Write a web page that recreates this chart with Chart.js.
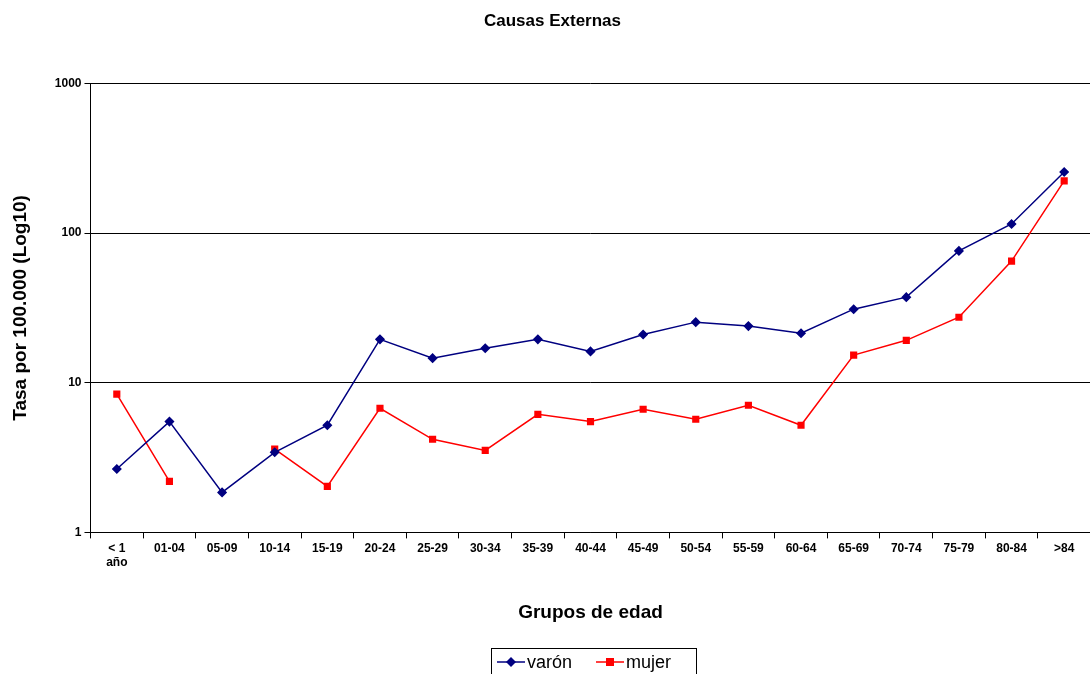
<!DOCTYPE html>
<html>
<head>
<meta charset="utf-8">
<script src="https://cdn.jsdelivr.net/npm/chart.js@4"></script>
<style>
  html, body { margin: 0; padding: 0; background: #fff; }
  #wrap { width: 1096px; height: 674px; }
</style>
</head>
<body>
<div id="wrap"><canvas id="chart"></canvas></div>
<script>
const categories = [['< 1', 'año'], '01-04', '05-09', '10-14', '15-19', '20-24', '25-29', '30-34',
  '35-39', '40-44', '45-49', '50-54', '55-59', '60-64', '65-69', '70-74', '75-79', '80-84', '>84'];
const varon = [2.65, 5.5, 1.85, 3.43, 5.2, 19.5, 14.6, 17, 19.5, 16.2, 21, 25.4, 23.9, 21.4, 31, 37.3, 76, 115, 256];
const mujer = [8.4, 2.19, null, 3.6, 2.03, 6.75, 4.19, 3.53, 6.15, 5.5, 6.65, 5.7, 7.07, 5.2, 15.3, 19.2, 27.4, 65, 223];
const yTicks = [1, 10, 100, 1000];

Chart.defaults.font.family = '"Liberation Sans", Arial, sans-serif';
Chart.defaults.color = '#000';

// legend drawn by hand: small boxed legend like the original
const legendBox = {
  id: 'legendBox',
  afterDraw(chart) {
    const c = chart.ctx;
    const x0 = 491, y0 = 648, w = 205, h = 28;
    c.save();
    c.strokeStyle = '#000';
    c.lineWidth = 1;
    c.strokeRect(x0 + 0.5, y0 + 0.5, w, h);
    c.font = '18px "Liberation Sans", Arial, sans-serif';
    c.textBaseline = 'middle';
    const cy = y0 + 14;
    chart.data.datasets.forEach((ds, i) => {
      const lx = x0 + 6 + i * 99;
      c.strokeStyle = ds.borderColor;
      c.lineWidth = 1.5;
      c.beginPath(); c.moveTo(lx, cy); c.lineTo(lx + 28, cy); c.stroke();
      c.fillStyle = ds.backgroundColor;
      if (ds.pointStyle === 'rect') {
        c.fillRect(lx + 10, cy - 4, 8, 8);
      } else {
        c.beginPath();
        c.moveTo(lx + 14, cy - 5); c.lineTo(lx + 19, cy); c.lineTo(lx + 14, cy + 5); c.lineTo(lx + 9, cy);
        c.closePath(); c.fill();
      }
      c.fillStyle = '#000';
      c.fillText(ds.label, lx + 30, cy + 1);
    });
    c.restore();
  }
};

new Chart(document.getElementById('chart').getContext('2d'), {
  type: 'line',
  data: {
    labels: categories,
    datasets: [
      {
        label: 'varón', data: varon, borderColor: '#000080', backgroundColor: '#000080',
        borderWidth: 1.5, pointStyle: 'rectRot', pointRadius: 4, tension: 0
      },
      {
        label: 'mujer', data: mujer, borderColor: '#ff0000', backgroundColor: '#ff0000',
        borderWidth: 1.5, pointStyle: 'rect', pointRadius: 4, tension: 0, spanGaps: false
      }
    ]
  },
  options: {
    responsive: true,
    maintainAspectRatio: false,
    animation: false,
    layout: { padding: { left: 9, right: 0, top: 10, bottom: 50 } },
    plugins: {
      title: {
        display: true, text: 'Causas Externas',
        font: { size: 17, weight: 'bold' }, padding: { top: 1, bottom: 52 }
      },
      legend: { display: false },
      tooltip: { enabled: false }
    },
    scales: {
      x: {
        offset: true,
        grid: { offset: true, drawOnChartArea: false, color: '#000', tickLength: 6 },
        border: { color: '#000' },
        ticks: { font: { size: 12, weight: 'bold' }, maxRotation: 0, autoSkip: false },
        title: {
          display: true, text: 'Grupos de edad',
          font: { size: 19, weight: 'bold' }, padding: { top: 28, bottom: 0 }
        }
      },
      y: {
        type: 'logarithmic',
        min: 1, max: 1000,
        afterBuildTicks: (axis) => { axis.ticks = yTicks.map((v) => ({ value: v })); },
        grid: { color: '#000', tickLength: 6 },
        border: { color: '#000' },
        ticks: { font: { size: 12, weight: 'bold' }, callback: (v) => String(v) },
        title: {
          display: true, text: 'Tasa por 100.000 (Log10)',
          font: { size: 19, weight: 'bold' }, padding: { top: 0, bottom: 20 }
        }
      }
    }
  },
  plugins: [legendBox]
});
</script>
</body>
</html>
